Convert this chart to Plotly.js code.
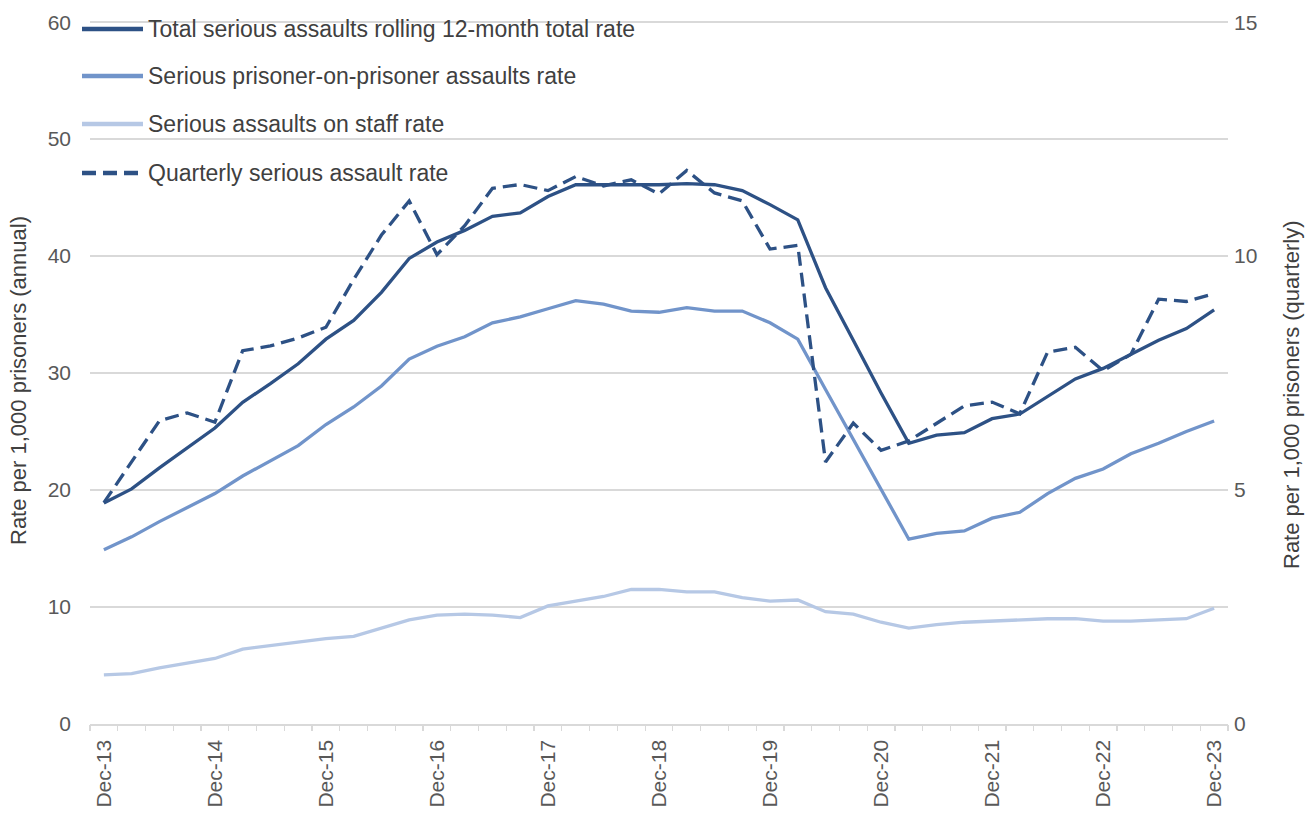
<!DOCTYPE html>
<html>
<head>
<meta charset="utf-8">
<script src="https://cdn.plot.ly/plotly-3.0.1.min.js"></script>
<style>
  html, body { margin: 0; padding: 0; background: #ffffff; }
  #chart { width: 1314px; height: 814px; }
</style>
</head>
<body>
<div id="chart"></div>
<script>
// Quarter-end periods, Dec-13 to Dec-23
const quarters = [
  'Dec-13','Mar-14','Jun-14','Sep-14','Dec-14','Mar-15','Jun-15','Sep-15',
  'Dec-15','Mar-16','Jun-16','Sep-16','Dec-16','Mar-17','Jun-17','Sep-17',
  'Dec-17','Mar-18','Jun-18','Sep-18','Dec-18','Mar-19','Jun-19','Sep-19',
  'Dec-19','Mar-20','Jun-20','Sep-20','Dec-20','Mar-21','Jun-21','Sep-21',
  'Dec-21','Mar-22','Jun-22','Sep-22','Dec-22','Mar-23','Jun-23','Sep-23',
  'Dec-23'
];

// Rolling 12-month rates per 1,000 prisoners (left axis)
const totalRolling = [
  18.9, 20.1, 21.9, 23.6, 25.3, 27.5, 29.1, 30.8, 32.9, 34.5,
  36.9, 39.8, 41.2, 42.2, 43.4, 43.7, 45.1, 46.1, 46.1, 46.1,
  46.1, 46.2, 46.1, 45.6, 44.4, 43.1, 37.3, 32.8, 28.3, 24.0,
  24.7, 24.9, 26.1, 26.5, 28.0, 29.5, 30.4, 31.6, 32.8, 33.8,
  35.4
];
const prisonerOnPrisoner = [
  14.9, 16.0, 17.3, 18.5, 19.7, 21.2, 22.5, 23.8, 25.6, 27.1,
  28.9, 31.2, 32.3, 33.1, 34.3, 34.8, 35.5, 36.2, 35.9, 35.3,
  35.2, 35.6, 35.3, 35.3, 34.3, 32.9, 28.6, 24.3, 20.0, 15.8,
  16.3, 16.5, 17.6, 18.1, 19.7, 21.0, 21.8, 23.1, 24.0, 25.0,
  25.9
];
const onStaff = [
  4.2, 4.3, 4.8, 5.2, 5.6, 6.4, 6.7, 7.0, 7.3, 7.5,
  8.2, 8.9, 9.3, 9.4, 9.3, 9.1, 10.1, 10.5, 10.9, 11.5,
  11.5, 11.3, 11.3, 10.8, 10.5, 10.6, 9.6, 9.4, 8.7, 8.2,
  8.5, 8.7, 8.8, 8.9, 9.0, 9.0, 8.8, 8.8, 8.9, 9.0,
  9.9
];

// Quarterly rate per 1,000 prisoners (right axis)
const quarterly = [
  4.73, 5.60, 6.48, 6.65, 6.45, 7.98, 8.08, 8.25, 8.48, 9.50,
  10.45, 11.18, 10.03, 10.65, 11.45, 11.53, 11.40, 11.70, 11.50, 11.63,
  11.33, 11.83, 11.35, 11.18, 10.15, 10.23, 5.60, 6.43, 5.85, 6.05,
  6.43, 6.80, 6.88, 6.63, 7.95, 8.05, 7.55, 7.90, 9.08, 9.03,
  9.20
];

const seriesNames = [
  'Total serious assaults rolling 12-month total rate',
  'Serious prisoner-on-prisoner assaults rate',
  'Serious assaults on staff rate',
  'Quarterly serious assault rate'
];

const yearLabels = quarters.filter(q => q.startsWith('Dec'));

const DARK = '#2d5185';
const MID = '#7194ca';
const LIGHT = '#b6c8e5';
const DASH = '14px,7px';
const FONT = 'Liberation Sans, Arial, sans-serif';
const W = 1314, H = 814;
const M = { l: 90, r: 86, t: 21, b: 90 };
const PW = W - M.l - M.r, PH = H - M.t - M.b;

const idx = quarters.map((_, i) => i);

const styles = [
  { color: DARK, width: 3.3 },
  { color: MID, width: 3.3 },
  { color: LIGHT, width: 3.3 },
  { color: DARK, width: 3.3, dash: DASH }
];

const traces = [
  { x: idx, y: totalRolling, type: 'scatter', mode: 'lines', name: seriesNames[0], line: styles[0] },
  { x: idx, y: prisonerOnPrisoner, type: 'scatter', mode: 'lines', name: seriesNames[1], line: styles[1] },
  { x: idx, y: onStaff, type: 'scatter', mode: 'lines', name: seriesNames[2], line: styles[2] },
  { x: idx, y: quarterly, type: 'scatter', mode: 'lines', name: seriesNames[3], line: styles[3], yaxis: 'y2' },
  // carrier for the boundary tick-mark axis
  { x: [], y: [], xaxis: 'x2', type: 'scatter', mode: 'lines', hoverinfo: 'skip' }
];

// pixel -> paper helpers for the key and titles
const px = v => (v - M.l) / PW;
const py = v => (H - M.b - v) / PH;

// Key in the top-left corner of the plot
const keyRows = [29, 76, 124, 173];
const shapes = [];
const annotations = [];
seriesNames.forEach((name, k) => {
  shapes.push({
    type: 'line', xref: 'paper', yref: 'paper',
    x0: px(82), x1: px(143), y0: py(keyRows[k]), y1: py(keyRows[k]),
    line: { color: styles[k].color, width: 4.5, dash: styles[k].dash || 'solid' }
  });
  annotations.push({
    xref: 'paper', yref: 'paper', x: px(146), y: py(keyRows[k]),
    xanchor: 'left', yanchor: 'middle', showarrow: false, text: name,
    font: { family: FONT, size: 23, color: '#404040' }
  });
});

// Axis titles
annotations.push({
  xref: 'paper', yref: 'paper', x: px(18), y: py(381),
  xanchor: 'center', yanchor: 'middle', showarrow: false, textangle: -90,
  text: 'Rate per 1,000 prisoners (annual)',
  font: { family: FONT, size: 22, color: '#404040' }
});
annotations.push({
  xref: 'paper', yref: 'paper', x: px(1291), y: py(395),
  xanchor: 'center', yanchor: 'middle', showarrow: false, textangle: -90,
  text: 'Rate per 1,000 prisoners (quarterly)',
  font: { family: FONT, size: 22, color: '#404040' }
});

const boundaries = [];
for (let i = 0; i <= quarters.length; i++) boundaries.push(i - 0.5);

// a hair above the top tick so the 60 / 15 gridline is kept
const LEFT_MAX = 60.1;
const RIGHT_MAX = LEFT_MAX / 4;

const layout = {
  width: W, height: H,
  margin: M,
  paper_bgcolor: '#ffffff', plot_bgcolor: '#ffffff',
  font: { family: FONT, size: 20, color: '#595959' },
  showlegend: false,
  shapes: shapes,
  annotations: annotations,
  xaxis: {
    type: 'linear', range: [-0.5, quarters.length - 0.5],
    tickmode: 'array',
    tickvals: yearLabels.map(l => quarters.indexOf(l)),
    ticktext: yearLabels,
    tickangle: -90, ticks: '', showgrid: false, zeroline: false,
    showline: true, linecolor: '#d9d9d9', linewidth: 1.5,
    tickfont: { family: FONT, size: 21, color: '#595959' },
    ticklabelstandoff: 6
  },
  xaxis2: {
    type: 'linear', range: [-0.5, quarters.length - 0.5],
    overlaying: 'x', anchor: 'y',
    tickmode: 'array', tickvals: boundaries,
    ticks: 'outside', ticklen: 6, tickwidth: 1.2, tickcolor: '#d9d9d9',
    showticklabels: false, showgrid: false, zeroline: false, showline: false
  },
  yaxis: {
    range: [0, LEFT_MAX], tickmode: 'array', tickvals: [0, 10, 20, 30, 40, 50, 60],
    showgrid: true, gridcolor: '#d9d9d9', gridwidth: 1.5,
    zeroline: false, showline: false, ticks: '',
    tickfont: { family: FONT, size: 21, color: '#595959' },
    ticklabelstandoff: 18
  },
  yaxis2: {
    range: [0, RIGHT_MAX], tickmode: 'array', tickvals: [0, 5, 10, 15],
    overlaying: 'y', side: 'right',
    showgrid: false, zeroline: false, showline: false, ticks: '',
    tickfont: { family: FONT, size: 21, color: '#595959' },
    ticklabelstandoff: 5
  }
};

Plotly.newPlot('chart', traces, layout, { displayModeBar: false, staticPlot: true });
</script>
</body>
</html>
